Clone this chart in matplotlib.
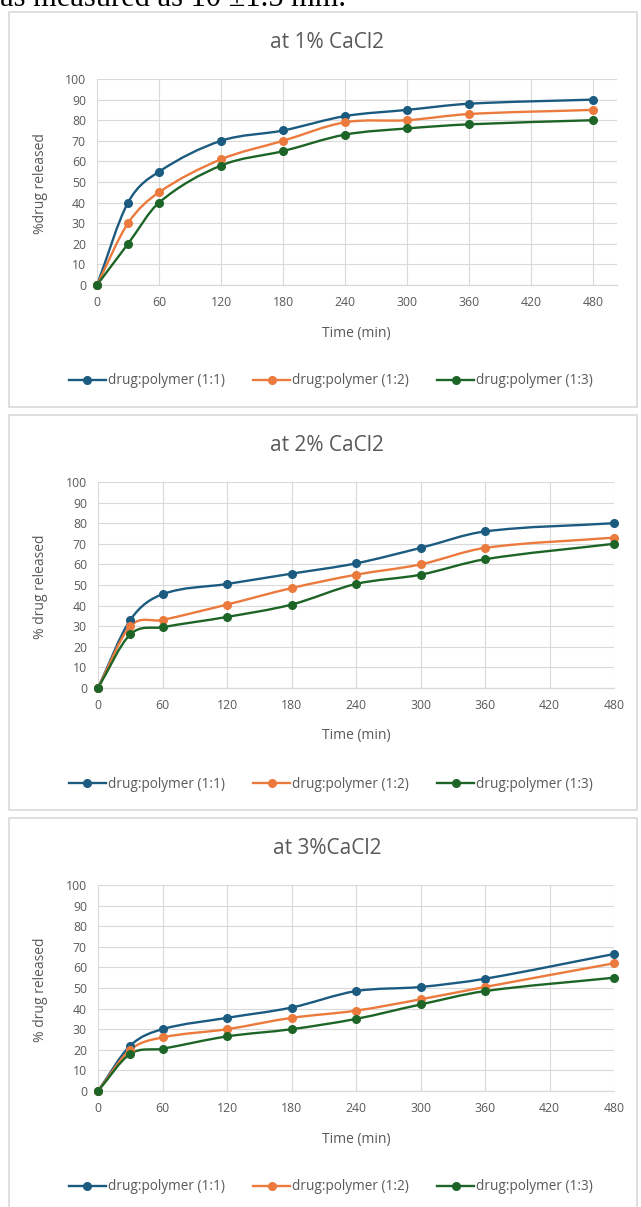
import matplotlib
matplotlib.use("Agg")
import matplotlib.pyplot as plt
from matplotlib.path import Path
from matplotlib.patches import PathPatch, Rectangle
from matplotlib.lines import Line2D

plt.rcParams['font.family'] = ['Open Sans', 'DejaVu Sans']

# ---------------- data ----------------
time_min = [0, 30, 60, 120, 180, 240, 300, 360, 480]
x_ticks = [0, 60, 120, 180, 240, 300, 360, 420, 480]
y_ticks = [0, 10, 20, 30, 40, 50, 60, 70, 80, 90, 100]
series_names = ["drug:polymer (1:1)", "drug:polymer (1:2)", "drug:polymer (1:3)"]

titles = ["at 1% CaCl2", "at 2% CaCl2", "at 3%CaCl2"]
ylabels = ["%drug released", "% drug released", "% drug released"]
xlabel = "Time (min)"

cacl2_1_11 = [0, 40, 55, 70, 75, 82, 85, 88, 90]
cacl2_1_12 = [0, 30, 45, 61, 70, 79, 80, 83, 85]
cacl2_1_13 = [0, 20, 40, 58, 65, 73, 76, 78, 80]

cacl2_2_11 = [0, 33, 45.5, 50.5, 55.5, 60.5, 68, 76, 80]
cacl2_2_12 = [0, 30, 33, 40.5, 48.5, 55, 60, 68, 73]
cacl2_2_13 = [0, 26, 29.5, 34.5, 40.5, 50.5, 55, 62.5, 70]

cacl2_3_11 = [0, 22, 30, 35.5, 40.5, 48.5, 50.5, 54.5, 66.5]
cacl2_3_12 = [0, 20, 26, 30, 35.5, 39, 44.5, 50.5, 62]
cacl2_3_13 = [0, 18, 20.5, 26.5, 30, 35, 42, 48.5, 55]

panels = [
    [cacl2_1_11, cacl2_1_12, cacl2_1_13],
    [cacl2_2_11, cacl2_2_12, cacl2_2_13],
    [cacl2_3_11, cacl2_3_12, cacl2_3_13],
]

colors = ["#1c5b80", "#EB7A3C", "#1d6527"]
text_gray = "#595959"
grid_gray = "#d9d9d9"

W, H = 641, 1207
fig = plt.figure(figsize=(W / 100, H / 100), dpi=100)


def fx(px):
    return px / W


def fy(py):
    return 1 - py / H


def smooth_path(xs, ys):
    verts = [(xs[0], ys[0])]
    codes = [Path.MOVETO]
    n = len(xs)
    slopes = []
    for i in range(n):
        a = max(i - 1, 0)
        b = min(i + 1, n - 1)
        slopes.append((ys[b] - ys[a]) / (xs[b] - xs[a]))
    for i in range(n - 1):
        dx = xs[i + 1] - xs[i]
        c1 = (xs[i] + dx / 3, ys[i] + slopes[i] * dx / 3)
        c2 = (xs[i + 1] - dx / 3, ys[i + 1] - slopes[i + 1] * dx / 3)
        verts += [c1, c2, (xs[i + 1], ys[i + 1])]
        codes += [Path.CURVE4] * 3
    return Path(verts, codes)


# top cut-off text from page
fig.text(0.0, fy(6), "as measured as 10 \u00b11.5 mm.", family=['Liberation Serif'],
         fontsize=22, color='black', ha='left', va='baseline')

panel_tops = [12, 415, 818]
panel_h = 395
for k, top in enumerate(panel_tops):
    rect = Rectangle((fx(9), fy(top + panel_h)), fx(637) - fx(9), fy(top) - fy(top + panel_h),
                     transform=fig.transFigure, facecolor='white', edgecolor=grid_gray,
                     linewidth=1.2, zorder=0)
    fig.add_artist(rect)

    if k == 0:
        left, right, xmax = 97, 617, 503
    else:
        left, right, xmax = 98, 614, 480
    ytop, ybot = top + 67, top + 273
    ax = fig.add_axes([fx(left), fy(ybot), fx(right) - fx(left), fy(ytop) - fy(ybot)])
    ax.set_facecolor('none')
    ax.set_xlim(0, xmax)
    ax.set_ylim(0, 100)
    ax.set_xticks(x_ticks)
    ax.set_yticks(y_ticks)
    for s in ['top', 'right', 'left']:
        ax.spines[s].set_visible(False)
    ax.spines['bottom'].set_color(grid_gray)
    ax.spines['bottom'].set_linewidth(0.9)
    ax.grid(True, color=grid_gray, linewidth=0.8)
    ax.set_axisbelow(True)
    ax.tick_params(axis='both', length=0, labelsize=8.8, labelcolor=text_gray)
    ax.tick_params(axis='x', pad=8)
    ax.tick_params(axis='y', pad=8)

    for vals, c in zip(panels[k], colors):
        p = PathPatch(smooth_path(time_min, vals), facecolor='none', edgecolor=c,
                      linewidth=1.7, clip_on=False, zorder=3)
        ax.add_patch(p)
        ax.plot(time_min, vals, linestyle='none', marker='o', markersize=5.5,
                color=c, clip_on=False, zorder=4)

    fig.text(fx(327), fy(top + 31), titles[k], fontsize=15, color=text_gray,
             ha='center', va='center')
    fig.text(fx(41), fy(top + 172), ylabels[k], fontsize=10, color=text_gray,
             ha='center', va='center', rotation=90)
    fig.text(fx(356), fy(top + 321), xlabel, fontsize=10, color=text_gray,
             ha='center', va='center')

    handles = [Line2D([], [], color=c, linewidth=1.7, marker='o', markersize=5.5)
               for c in colors]
    leg = fig.legend(handles, series_names, loc='center', ncol=3, frameon=False,
                     bbox_to_anchor=(fx(331), fy(top + 369)), fontsize=9.8,
                     handlelength=2.7, handletextpad=0.15, columnspacing=2.1)
    for t in leg.get_texts():
        t.set_color(text_gray)

fig.savefig("out.png", dpi=100)
